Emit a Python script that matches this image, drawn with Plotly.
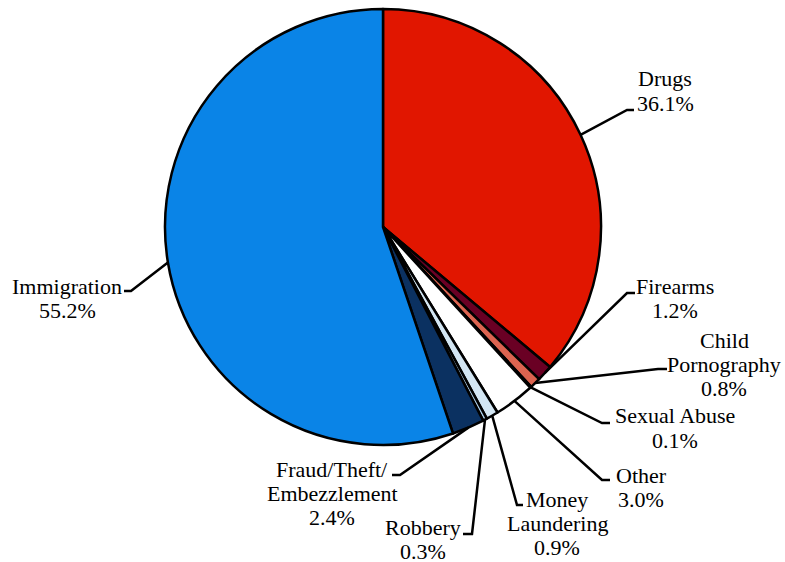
import math
import plotly.graph_objects as go

# ---- data ----
categories = ["Drugs", "Firearms", "Child Pornography", "Sexual Abuse", "Other",
              "Money Laundering", "Robbery", "Fraud/Theft/Embezzlement", "Immigration"]
values = [36.1, 1.2, 0.8, 0.1, 3.0, 0.9, 0.3, 2.4, 55.2]
label_names = [["Drugs"], ["Firearms"], ["Child", "Pornography"], ["Sexual Abuse"], ["Other"],
               ["Money", "Laundering"], ["Robbery"], ["Fraud/Theft/", "Embezzlement"], ["Immigration"]]
colors = ["#E11600", "#6A0024", "#DC6450", "#FFFFFF", "#FFFFFF",
          "#D3E6F3", "#A9CBE6", "#0B3161", "#0A84E7"]

# ---- layout (pixels) ----
W, H = 785, 562
CX, CY, R = 383, 227, 218
# label first-line centre (x, y)
label_pos = [(665, 79), (675, 286), (724, 340), (675, 416), (641, 475),
             (557, 499), (423, 527), (332, 469), (67, 286)]
# elbow: (x near text, x toward pie, y)
elbows = [(634, 627, 110), (635, 627, 293), (667, 658, 369), (610, 602, 423), (610, 602, 480),
          (523, 517, 505), (463, 472, 534), (392, 400, 475), (124, 131, 291)]
LINE_H = 24
FONT = "Liberation Serif, Times New Roman, serif"
FS = 22

def px(x):
    return x / W

def py(y):
    return 1 - y / H

fig = go.Figure(go.Pie(
    labels=categories, values=values, sort=False, direction="clockwise", rotation=0,
    marker=dict(colors=colors, line=dict(color="black", width=2.5)),
    textinfo="none", hoverinfo="label+percent", showlegend=False,
    domain=dict(x=[px(CX - R), px(CX + R)], y=[py(CY + R), py(CY - R)]),
))

total = sum(values)
cum = 0.0
shapes = []
annotations = []
for i, v in enumerate(values):
    mid = (cum + v / 2) / total * 2 * math.pi
    cum += v
    ex = CX + R * math.sin(mid)
    ey = CY - R * math.cos(mid)
    xa, xb, ye = elbows[i]
    shapes.append(dict(type="path", xref="paper", yref="paper",
                       path=f"M {px(xa)},{py(ye)} L {px(xb)},{py(ye)} L {px(ex)},{py(ey)}",
                       line=dict(color="black", width=2.5)))
    lines = label_names[i] + [f"{v:.1f}%"]
    lx, ly = label_pos[i]
    for j, t in enumerate(lines):
        annotations.append(dict(x=px(lx), y=py(ly + j * LINE_H), xref="paper", yref="paper",
                                text=t, showarrow=False, xanchor="center", yanchor="middle",
                                font=dict(family=FONT, size=FS, color="black")))

fig.update_layout(width=W, height=H, margin=dict(l=0, r=0, t=0, b=0),
                  paper_bgcolor="white", plot_bgcolor="white",
                  font=dict(family=FONT),
                  shapes=shapes, annotations=annotations)
fig.write_html("out.html", config={"displayModeBar": False},
               post_script="document.body.style.margin='0px';document.body.style.overflow='hidden';")
